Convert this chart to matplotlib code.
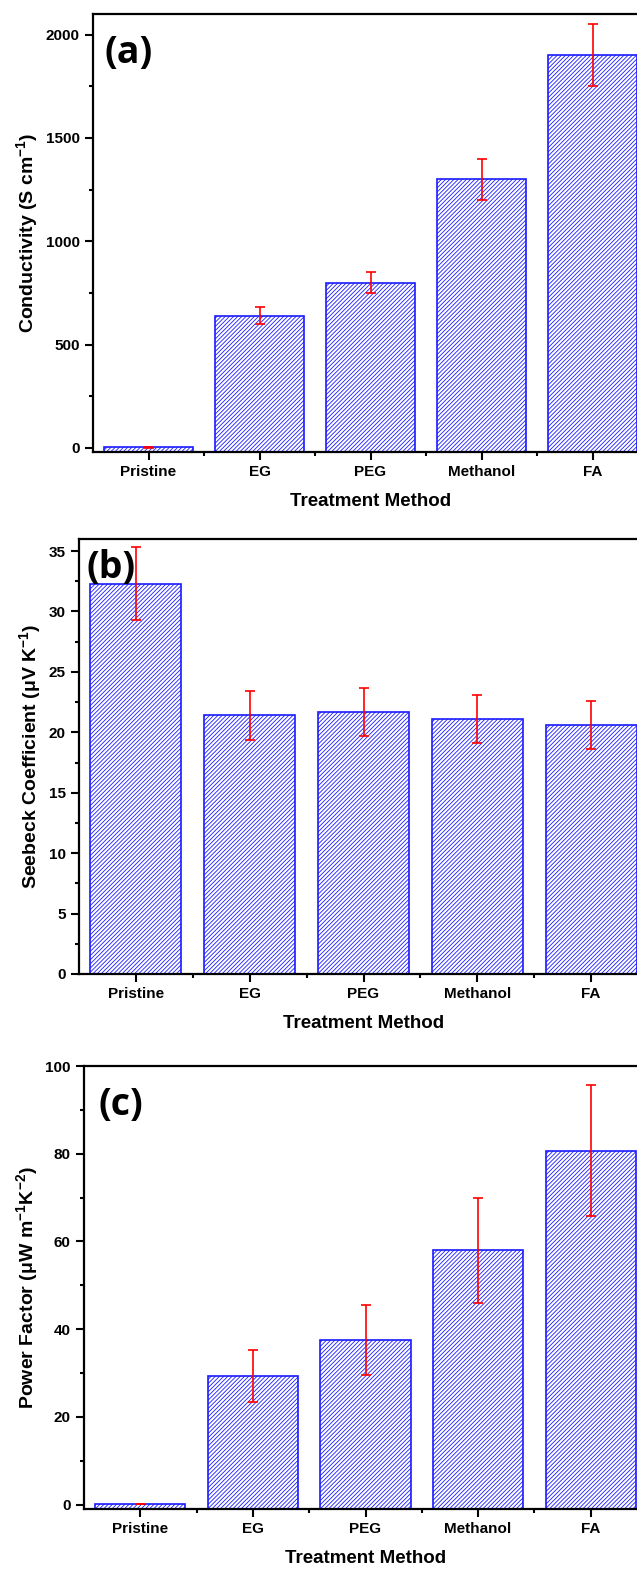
import numpy as np
import matplotlib.pyplot as plt
from matplotlib.ticker import MultipleLocator

plt.rcParams['font.family'] = ['Liberation Sans', 'DejaVu Sans']
plt.rcParams['font.weight'] = 'bold'
plt.rcParams['mathtext.fontset'] = 'custom'
plt.rcParams['mathtext.rm'] = 'Liberation Sans:bold'
plt.rcParams['mathtext.default'] = 'rm'
plt.rcParams['hatch.linewidth'] = 0.6
plt.rcParams['hatch.color'] = '#3a3aff'

# 处理方法
methods = ['Pristine', 'EG', 'PEG', 'Methanol', 'FA']

# (a) 电导率
conductivity = [3, 640, 800, 1300, 1900]
conductivity_err = [2, 40, 50, 100, 150]

# (b) 塞贝克系数
seebeck = [32.3, 21.4, 21.7, 21.1, 20.6]
seebeck_err = [3.0, 2.0, 2.0, 2.0, 2.0]

# (c) 功率因子
power_factor = [0.1, 29.3, 37.6, 58.0, 80.7]
power_factor_err = [0.05, 6.0, 8.0, 12.0, 15.0]

W, H = 637, 1574
fig = plt.figure(figsize=(W / 100, H / 100), dpi=100)


def px_axes(left, top, right, bottom):
    return fig.add_axes([left / W, 1 - bottom / H, (right - left) / W, (bottom - top) / H])


def draw_panel(ax, values, errors, ylim, major, minor, ylabel, tag, tag_pos):
    x = np.arange(1, len(methods) + 1)
    y0 = ylim[0]
    ax.bar(x, np.array(values) - y0, bottom=y0, width=0.8, color='white',
           edgecolor='#1a1aff', hatch='////////', linewidth=1.2, zorder=2)
    ax.errorbar(x, values, yerr=errors, fmt='none', ecolor='red',
                elinewidth=1.2, capsize=3.5, capthick=1.2, zorder=3)
    ax.set_xlim(0.5, len(methods) + 0.5)
    ax.set_ylim(*ylim)
    ax.set_xticks(x)
    ax.set_xticklabels(methods)
    ax.xaxis.set_minor_locator(plt.FixedLocator(x[:-1] + 0.5))
    ax.yaxis.set_major_locator(MultipleLocator(major))
    ax.yaxis.set_minor_locator(MultipleLocator(minor))
    ax.tick_params(which='major', direction='out', length=6, width=1.5, labelsize=11)
    ax.tick_params(which='minor', direction='out', length=3, width=1.5)
    ax.tick_params(top=False, right=False, which='both')
    for s in ax.spines.values():
        s.set_linewidth(1.6)
    ax.set_ylabel(ylabel, fontsize=14, fontweight='bold')
    ax.set_xlabel('Treatment Method', fontsize=13.5, fontweight='bold', labelpad=10)
    ax.text(tag_pos[0], tag_pos[1], tag, transform=ax.transAxes, fontsize=27,
            fontweight='bold', family=['Open Sans', 'DejaVu Sans'], va='center', ha='left')


ax1 = px_axes(93, 14, 648, 452)
draw_panel(ax1, conductivity, conductivity_err, (-20, 2100), 500, 250,
           r'Conductivity (S cm$^{-1}$)', '(a)', (0.020, 0.912))

ax2 = px_axes(79, 539, 648, 974)
draw_panel(ax2, seebeck, seebeck_err, (0, 36), 5, 2.5,
           r'Seebeck Coefficient (μV K$^{-1}$)', '(b)', (0.013, 0.934))

ax3 = px_axes(84, 1066, 647, 1509)
draw_panel(ax3, power_factor, power_factor_err, (-1, 100), 20, 10,
           r'Power Factor (μW m$^{-1}$K$^{-2}$)', '(c)', (0.025, 0.911))

fig.savefig('out.png', dpi=100)
